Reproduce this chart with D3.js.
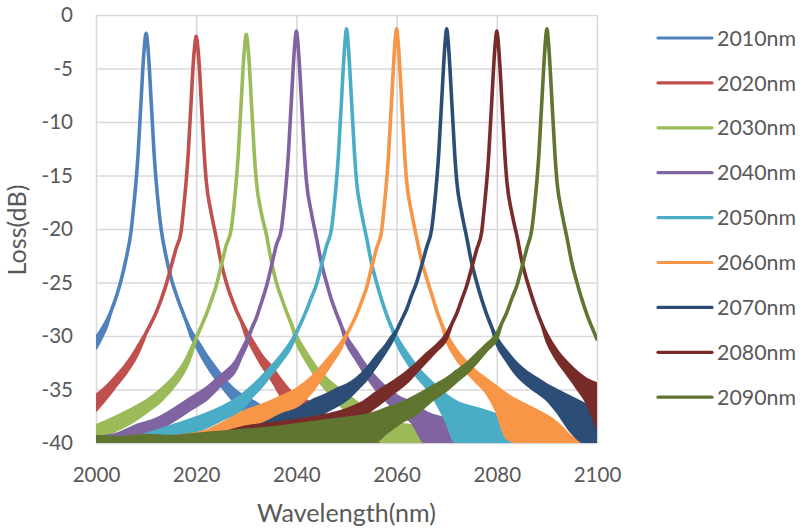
<!DOCTYPE html>
<html>
<head>
<meta charset="utf-8">
<script src="https://cdn.jsdelivr.net/npm/d3@7"></script>
<style>
  html, body { margin: 0; padding: 0; background: #ffffff; }
  svg { display: block; }
</style>
</head>
<body>
<svg id="chart" width="809" height="529"></svg>
<script>
// ---------- data ----------
const xTicks = [2000, 2020, 2040, 2060, 2080, 2100];
const yTicks = [0, -5, -10, -15, -20, -25, -30, -35, -40];
const seriesNames = ["2010nm", "2020nm", "2030nm", "2040nm", "2050nm", "2060nm", "2070nm", "2080nm", "2090nm"];
const seriesColors = ["#4F81BD", "#C0504D", "#9BBB59", "#8064A2", "#4BACC6", "#F79646", "#2C4D75", "#772C2A", "#5F7530"];

// each point: [wavelength (nm), loss upper (dB), loss lower (dB, optional: noise band)]
const s2010 = [[2000,-30.2,-31.1],[2001,-29.5,-30.2],[2002,-28.7,-29.2],[2003,-27.7],[2004,-26.4],[2005,-24.8],[2006,-22.8],[2007,-20.2],[2007.5,-18],[2008,-15.5],[2008.4,-13],[2008.7,-10.5],[2009,-8],[2009.35,-5],[2009.7,-2.7],[2010,-1.7],[2010.3,-2.7],[2010.65,-5],[2011,-8],[2011.3,-10.5],[2011.6,-13],[2012,-15.5],[2012.5,-18],[2013,-20],[2014,-22.6],[2015,-24.6],[2016,-26.1],[2017,-27.4],[2018,-28.6],[2019,-29.6,-30],[2020,-30.3,-30.9],[2022,-31.8,-32.6],[2024,-33.1,-34],[2026,-34.3,-35.2],[2028,-35.2,-36.3],[2030,-35.8,-37.2],[2032,-36.3,-38.3],[2034,-37,-39.5],[2036,-37.8,-40],[2040,-38.8,-40],[2050,-39.3,-40],[2070,-39.7,-40],[2100,-39.8,-40]];
const s2020 = [[2000,-35.6,-36.9],[2002,-34.8,-35.8],[2004,-33.8,-34.6],[2006,-32.7,-33.4],[2008,-31.3,-31.9],[2009,-30.5,-30.9],[2010,-29.7],[2011,-28.8],[2012,-27.8],[2013,-26.6],[2014,-25.2],[2015,-23.5],[2016,-21.8],[2017,-20.2],[2017.5,-18],[2018,-15.5],[2018.4,-13],[2018.7,-10.5],[2019,-8],[2019.35,-5],[2019.7,-2.9],[2020,-2],[2020.3,-2.9],[2020.65,-5],[2021,-8],[2021.3,-10.5],[2021.6,-13],[2022,-15.5],[2023,-18.5],[2024,-20.8],[2025,-23.2],[2026,-25],[2027,-26.4],[2028,-27.6],[2029,-28.6],[2030,-29.5,-30],[2031,-30.3,-30.9],[2033,-31.8,-32.6],[2035,-32.9,-34],[2037,-34.2,-35.6],[2039,-35.3,-36.8],[2041,-35.8,-37.5],[2043,-36.4,-38],[2045,-37.2,-39],[2048,-38.5,-40],[2055,-39.2,-40],[2100,-39.8,-40]];
const s2030 = [[2000,-38.4,-39.7],[2003,-37.8,-39],[2006.5,-37,-38.2],[2010,-36.1,-37.1],[2013,-35,-36],[2016,-33.6,-34.4],[2018,-32.2,-32.9],[2019,-31.2,-31.7],[2020,-30.2],[2021,-29.1],[2022,-28],[2023,-26.7],[2024,-25.3],[2025,-23.4],[2026,-21.5],[2027,-20],[2027.5,-18],[2028,-15.5],[2028.4,-13],[2028.7,-10.5],[2029,-8],[2029.35,-5],[2029.7,-2.8],[2030,-1.8],[2030.3,-2.8],[2030.65,-5],[2031,-8],[2031.3,-10.5],[2031.6,-13],[2032,-15.5],[2033,-18.5],[2034,-20.5],[2035,-23],[2036,-25],[2037,-26.4],[2038,-27.7],[2039,-28.9],[2040,-30,-30.5],[2042,-31.6,-32.3],[2044,-33,-33.8],[2046,-34,-35],[2048,-34.8,-36],[2050,-35.5,-37],[2052,-36.2,-38],[2055,-37.3,-39.2],[2058,-38,-40],[2065,-38.5,-40],[2075,-39.3,-40],[2100,-39.7,-40]];
const s2040 = [[2000,-39.5,-40],[2004,-39.2,-40],[2008.6,-38.3,-39.4],[2012,-37.8,-38.8],[2015.4,-36.9,-37.9],[2019,-35.8,-36.8],[2022,-34.9,-35.9],[2025,-33.7,-34.5],[2028,-32.3,-33],[2029,-31.4,-31.9],[2030,-30.5,-30.9],[2031,-29.4],[2032,-28.3],[2033,-26.9],[2034,-25.4],[2035,-23.5],[2036,-21.5],[2037,-20],[2037.5,-18],[2038,-15.5],[2038.4,-13],[2038.7,-10.5],[2039,-8],[2039.35,-5],[2039.7,-2.6],[2040,-1.5],[2040.3,-2.6],[2040.65,-5],[2041,-8],[2041.3,-10.5],[2041.6,-13],[2042,-15.5],[2043,-18.5],[2044,-20.8],[2045,-23.2],[2046,-25],[2047,-26.6],[2048,-27.9],[2049,-29.1],[2050,-30.1,-30.6],[2052,-31.5,-32.2],[2054,-32.9,-33.7],[2056,-34,-35],[2058,-34.9,-36],[2060,-35.6,-37],[2063,-36.3,-38],[2066,-37.2,-40],[2070,-37.8,-40],[2074,-38.4,-40],[2080,-39.2,-40],[2100,-39.7,-40]];
const s2050 = [[2000,-39.9,-40],[2006,-39.7,-40],[2010,-39.2,-40],[2016,-38.3,-39.3],[2021,-37.5,-38.7],[2025,-36.7,-37.8],[2029,-35.6,-36.8],[2031,-34.8,-35.7],[2033,-33.9,-34.7],[2035,-32.9,-33.5],[2037,-31.8,-32.3],[2039,-30.5,-30.9],[2040,-29.7],[2041,-28.7],[2042,-27.6],[2043,-26.4],[2044,-25.2],[2045,-23.4],[2046,-21.6],[2047,-20],[2047.5,-18],[2048,-15.5],[2048.4,-13],[2048.7,-10.5],[2049,-8],[2049.35,-5],[2049.7,-2.5],[2050,-1.3],[2050.3,-2.5],[2050.65,-5],[2051,-8],[2051.3,-10.5],[2051.6,-13],[2052,-15.5],[2053,-18.5],[2054,-20.8],[2055,-23.2],[2056,-25],[2057,-26.6],[2058,-28],[2059,-29.2],[2060,-30.1,-30.6],[2062,-31.6,-32.3],[2064,-32.9,-33.7],[2066,-33.9,-34.8],[2068,-34.8,-36.2],[2070,-35.6,-38],[2072,-36.2,-40],[2076,-36.8,-40],[2080,-37.4,-40],[2083,-38,-40],[2085,-39.2,-40],[2090,-39.7,-40],[2100,-39.9,-40]];
const s2060 = [[2000,-39.9,-40],[2008,-39.7,-40],[2016,-39.4,-40],[2022,-38.9,-40],[2026,-38,-39.5],[2030,-37,-38.6],[2033,-36.5,-38.2],[2036,-35.9,-37.8],[2040,-35,-36.6],[2043,-33.9,-35.2],[2045,-32.9,-33.9],[2047,-31.8,-32.5],[2049,-30.6,-31],[2050,-29.9],[2051,-29],[2052,-28],[2053,-26.8],[2054,-25.5],[2055,-23.6],[2056,-21.8],[2057,-20.2],[2057.5,-18],[2058,-15.5],[2058.4,-13],[2058.7,-10.5],[2059,-8],[2059.35,-5],[2059.7,-2.5],[2060,-1.3],[2060.3,-2.5],[2060.65,-5],[2061,-8],[2061.3,-10.5],[2061.6,-13],[2062,-15.5],[2063,-18.5],[2064,-20.8],[2065,-23],[2066,-24.6],[2067,-26.1],[2068,-27.6],[2069,-28.9],[2070,-29.9,-30.4],[2072,-31.4,-32.1],[2074,-32.5,-33.3],[2076,-33.4,-34.3],[2078,-34.1,-35.3],[2080,-34.8,-37],[2082,-35.5,-39.5],[2085,-36.3,-40],[2088,-37,-40],[2091,-37.8,-40],[2093,-38.6,-40],[2095,-39.5,-40],[2100,-39.9,-40]];
const s2070 = [[2000,-39.9,-40],[2012,-39.8,-40],[2020,-39.4,-40],[2026,-39.1,-40],[2030,-38.8,-40],[2034,-38.1,-40],[2037,-37.4,-39.4],[2040,-36.9,-38.6],[2043,-36.1,-37.8],[2046,-35.5,-37],[2048,-35,-36.5],[2050,-34.6,-35.9],[2052,-34,-35],[2054,-33.1,-34],[2056,-31.9,-32.7],[2058,-30.8,-31.3],[2059,-30.1,-30.5],[2060,-29.5],[2061,-28.5],[2062,-27.5],[2063,-26.2],[2064,-25],[2065,-23.4],[2066,-21.7],[2067,-20],[2067.5,-18],[2068,-15.5],[2068.4,-13],[2068.7,-10.5],[2069,-8],[2069.35,-5],[2069.7,-2.5],[2070,-1.3],[2070.3,-2.5],[2070.65,-5],[2071,-8],[2071.3,-10.5],[2071.6,-13],[2072,-15.5],[2073,-18.5],[2074,-20.8],[2075,-23.2],[2076,-25],[2077,-26.6],[2078,-28],[2079,-29.2],[2080,-30.2,-30.7],[2082,-31.5,-32.3],[2084,-32.6,-33.6],[2086,-33.4,-34.5],[2088,-34,-35.2],[2090,-34.6,-35.9],[2092,-35.1,-37],[2095,-35.8,-39],[2098,-36.5,-40],[2100,-37,-40]];
const s2080 = [[2000,-39.9,-40],[2015,-39.8,-40],[2020,-39.6,-40],[2025,-39.1,-40],[2030,-38.5,-40],[2035,-38.2,-40],[2040,-37.9,-40],[2045,-37.5,-39.5],[2050,-36.9,-38.3],[2053,-36.3,-37.5],[2056,-35.3,-36.5],[2059,-34.4,-35.4],[2062,-33.4,-34.3],[2064,-32.6,-33.3],[2066,-31.7,-32.3],[2068,-30.9,-31.3],[2070,-29.8,-30.2],[2071,-28.9],[2072,-27.9],[2073,-26.6],[2074,-25.3],[2075,-23.6],[2076,-21.9],[2077,-20.2],[2077.5,-18],[2078,-15.5],[2078.4,-13],[2078.7,-10.5],[2079,-8],[2079.35,-5],[2079.7,-2.6],[2080,-1.5],[2080.3,-2.6],[2080.65,-5],[2081,-8],[2081.3,-10.5],[2081.6,-13],[2082,-15.5],[2083,-18.5],[2084,-20.6],[2085,-23],[2086,-24.8],[2087,-26.3],[2088,-27.7],[2089,-28.9],[2090,-29.9,-30.4],[2092,-31.4,-32.2],[2094,-32.5,-33.5],[2096,-33.4,-34.8],[2098,-34.1,-36.2],[2100,-34.5,-38.5]];
const s2090 = [[2000,-39.4,-40],[2005,-39.5,-40],[2010,-39.3,-40],[2015,-39.4,-40],[2020,-39.2,-40],[2025,-39,-40],[2030,-38.8,-40],[2035,-38.6,-40],[2040,-38.3,-40],[2045,-38,-40],[2050,-37.7,-40],[2055,-37.3,-40],[2058,-36.8,-39],[2061,-36.3,-38],[2064,-35.6,-37.2],[2067,-34.8,-36],[2070,-34,-35],[2072,-33.3,-34.2],[2074,-32.6,-33.4],[2076,-31.7,-32.4],[2078,-30.8,-31.3],[2080,-29.8,-30.2],[2081,-28.8],[2082,-27.8],[2083,-26.5],[2084,-25.3],[2085,-23.6],[2086,-21.8],[2087,-20],[2087.5,-18],[2088,-15.5],[2088.4,-13],[2088.7,-10.5],[2089,-8],[2089.35,-5],[2089.7,-2.5],[2090,-1.3],[2090.3,-2.5],[2090.65,-5],[2091,-8],[2091.3,-10.5],[2091.6,-13],[2092,-15.5],[2093,-18.5],[2094,-20.8],[2095,-23.2],[2096,-25],[2097,-26.6],[2098,-28],[2099,-29.2],[2100,-30.3]];

const seriesData = [s2010, s2020, s2030, s2040, s2050, s2060, s2070, s2080, s2090];

// ---------- layout ----------
const W = 809, H = 529;
const plot = { left: 96, right: 597, top: 15, bottom: 443 };
const FONT = "Lato, 'Open Sans', 'Liberation Sans', sans-serif";
const TEXT_COLOR = "#595959";
const GRID_COLOR = "#D9D9D9";

const svg = d3.select("#chart");
svg.append("rect").attr("width", W).attr("height", H).attr("fill", "#ffffff");

const x = d3.scaleLinear().domain([2000, 2100]).range([plot.left, plot.right]);
const y = d3.scaleLinear().domain([0, -40]).range([plot.top, plot.bottom]);

// fit a text element's font size so its natural length matches a target width
function fitText(sel, targetWidth) {
  sel.each(function () {
    const base = parseFloat(this.getAttribute("font-size")) || 20;
    const len = this.getComputedTextLength();
    if (len > 0) this.setAttribute("font-size", (base * targetWidth / len).toFixed(2));
  });
}

// y axis + horizontal gridlines
const yAxis = svg.append("g")
  .attr("transform", `translate(${plot.left},0)`)
  .call(d3.axisLeft(y).tickValues(yTicks).tickSize(-(plot.right - plot.left)).tickPadding(23).tickFormat(d => String(d)));
yAxis.select(".domain").remove();
yAxis.selectAll(".tick line").attr("stroke", GRID_COLOR).attr("stroke-width", 1.6);
yAxis.selectAll(".tick text")
  .attr("fill", TEXT_COLOR).attr("font-family", FONT).attr("font-size", 20);

// x axis + vertical gridlines
const xAxis = svg.append("g")
  .attr("transform", `translate(0,${plot.bottom})`)
  .call(d3.axisBottom(x).tickValues(xTicks).tickSize(-(plot.bottom - plot.top)).tickPadding(24).tickFormat(d => String(d)));
xAxis.select(".domain").remove();
xAxis.selectAll(".tick line").attr("stroke", GRID_COLOR).attr("stroke-width", 1.6);
xAxis.selectAll(".tick text")
  .attr("fill", TEXT_COLOR).attr("font-family", FONT).attr("font-size", 20);

// size tick fonts so "2000" is ~47.7px wide
(function () {
  const t = xAxis.select(".tick text").node();
  const fs = 20 * 47.7 / t.getComputedTextLength();
  xAxis.selectAll(".tick text").attr("font-size", fs.toFixed(2));
  yAxis.selectAll(".tick text").attr("font-size", fs.toFixed(2));
})();

// clip path for plot area
svg.append("defs").append("clipPath").attr("id", "plotClip")
  .append("rect")
  .attr("x", plot.left).attr("y", plot.top)
  .attr("width", plot.right - plot.left).attr("height", plot.bottom - plot.top);

// series
const area = d3.area()
  .curve(d3.curveMonotoneX)
  .x(d => x(d[0]))
  .y1(d => y(d[1]))
  .y0(d => y(d.length > 2 ? d[2] : d[1]));

const marks = svg.append("g").attr("clip-path", "url(#plotClip)");
seriesData.forEach((data, i) => {
  marks.append("path")
    .datum(data)
    .attr("d", area)
    .attr("fill", seriesColors[i])
    .attr("stroke", seriesColors[i])
    .attr("stroke-width", 3.6)
    .attr("stroke-linejoin", "round");
});

// axis titles
const xt = svg.append("text")
  .attr("x", (plot.left + plot.right) / 2).attr("y", 521.5)
  .attr("text-anchor", "middle")
  .attr("fill", TEXT_COLOR).attr("font-family", FONT).attr("font-size", 22)
  .text("Wavelength(nm)");
fitText(xt, 179);

const yt = svg.append("text")
  .attr("transform", `translate(26,${(plot.top + plot.bottom) / 2 + 1}) rotate(-90)`)
  .attr("text-anchor", "middle")
  .attr("fill", TEXT_COLOR).attr("font-family", FONT).attr("font-size", 22)
  .text("Loss(dB)");
fitText(yt, 91);

// legend
const legend = svg.append("g");
const legendTop = 38, legendStep = 44.9;
seriesNames.forEach((name, i) => {
  const gy = legendTop + i * legendStep;
  legend.append("line")
    .attr("x1", 658).attr("x2", 712).attr("y1", gy).attr("y2", gy)
    .attr("stroke", seriesColors[i]).attr("stroke-width", 3.2).attr("stroke-linecap", "round");
  const t = legend.append("text")
    .attr("x", 717).attr("y", gy).attr("dy", "0.36em")
    .attr("fill", TEXT_COLOR).attr("font-family", FONT).attr("font-size", 20)
    .text(name);
  fitText(t, 79);
});
</script>
</body>
</html>
